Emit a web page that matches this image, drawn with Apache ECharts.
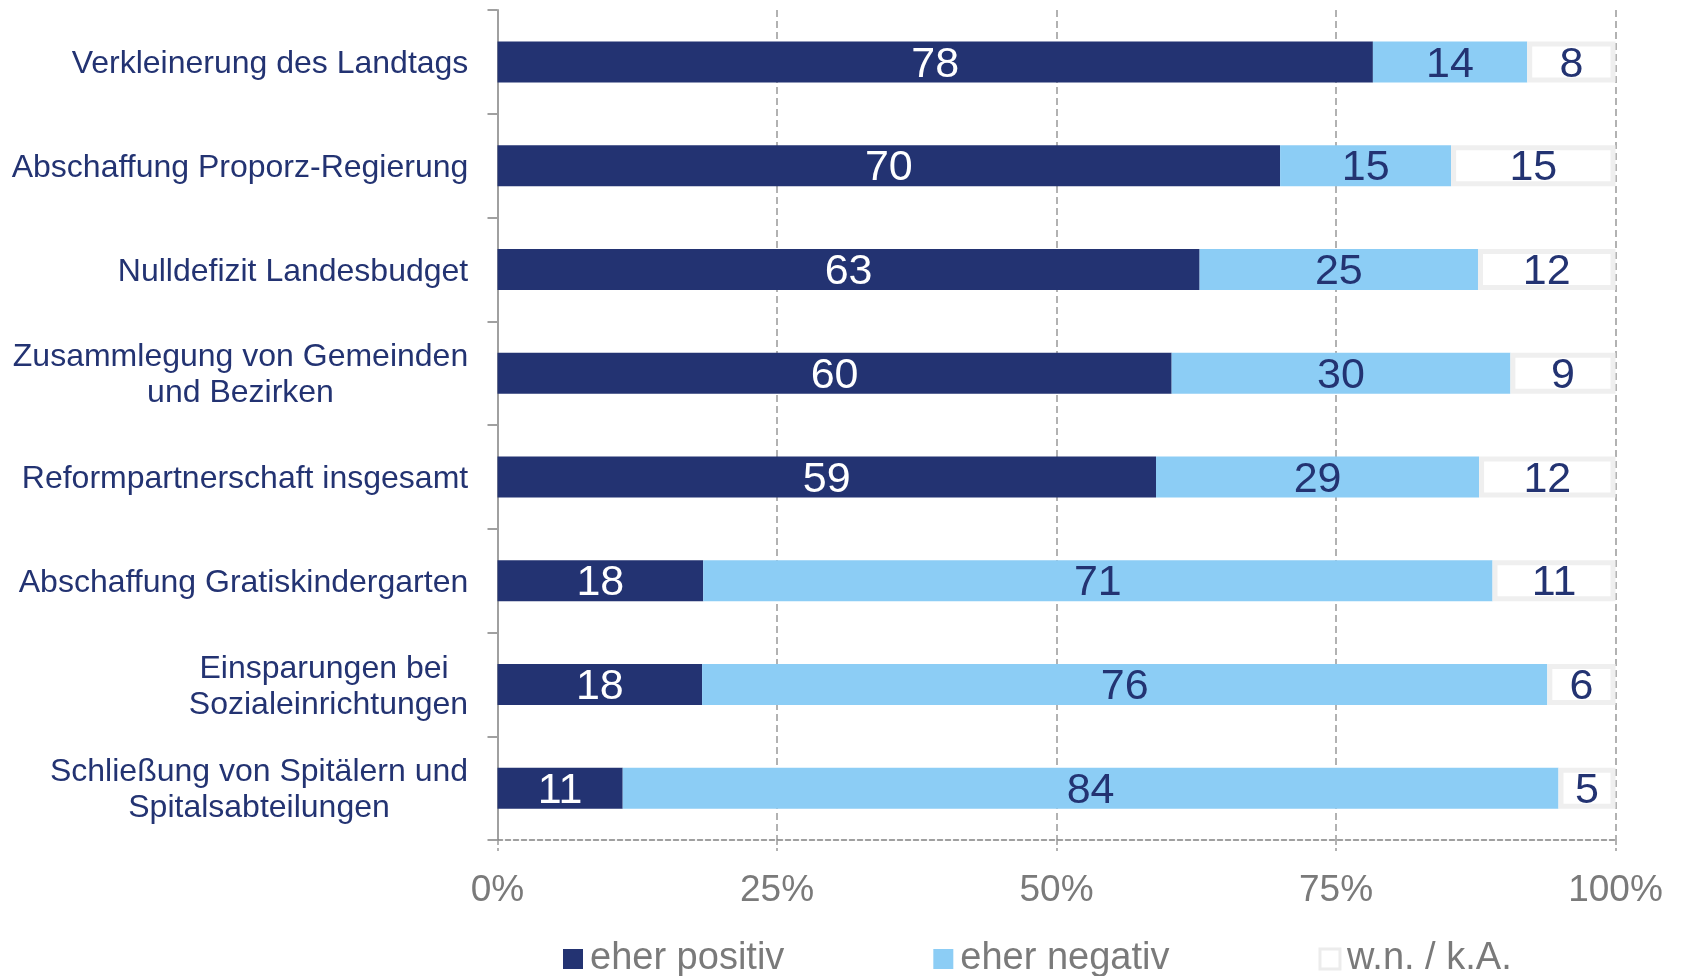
<!DOCTYPE html>
<html>
<head>
<meta charset="utf-8">
<script src="https://cdn.jsdelivr.net/npm/echarts@6/dist/echarts.min.js"></script>
<style>
html,body{margin:0;padding:0;background:#fff;}
#chart{width:1684px;height:976px;}
</style>
</head>
<body>
<div id="chart"></div>
<script>
var categories = [
  'Verkleinerung des Landtags',
  'Abschaffung Proporz-Regierung',
  'Nulldefizit Landesbudget',
  'Zusammlegung von Gemeinden\nund Bezirken',
  'Reformpartnerschaft insgesamt',
  'Abschaffung Gratiskindergarten',
  'Einsparungen bei \nSozialeinrichtungen',
  'Schließung von Spitälern und\nSpitalsabteilungen'
];
var seriesNames = ['eher positiv', 'eher negativ', 'w.n. / k.A.'];
var positiv = [78.3, 70.0, 62.8, 60.3, 58.9, 18.4, 18.3, 11.2];
var negativ = [13.8, 15.3, 24.9, 30.3, 28.9, 70.6, 75.6, 83.7];
var wnka    = [7.9, 14.7, 12.3, 9.4, 12.2, 11.0, 6.1, 5.1];
var xTicks = [0, 25, 50, 75, 100];

var NAVY = '#233372';
var LIGHT = '#8ccdf5';
var GRAY = '#7a7a7a';
var FONT = '"Liberation Sans", Arial, sans-serif';
var CAT_SIZE = 32;

// measure label lines so that multi-line labels can be centred line by line
var ctx = document.createElement('canvas').getContext('2d');
ctx.font = CAT_SIZE + 'px ' + FONT;
var rich = {};
categories.forEach(function (c, i) {
  var w = 0;
  c.split('\n').forEach(function (l) { w = Math.max(w, ctx.measureText(l).width); });
  rich['c' + i] = {width: Math.ceil(w), align: 'center', fontSize: CAT_SIZE, lineHeight: 36, color: NAVY, fontFamily: FONT};
});

var chart = echarts.init(document.getElementById('chart'), null, {renderer: 'canvas'});

function labelCfg(color) {
  return {
    show: true,
    position: 'inside',
    offset: [0, 3],
    color: color,
    fontFamily: FONT,
    fontSize: 43,
    formatter: function (p) { return Math.round(p.value); }
  };
}

var option = {
  animation: false,
  backgroundColor: '#ffffff',
  textStyle: {fontFamily: FONT},
  legend: {
    data: [
      {name: seriesNames[0], itemStyle: {color: NAVY}},
      {name: seriesNames[1], itemStyle: {color: LIGHT}},
      {name: seriesNames[2], itemStyle: {color: '#ffffff', borderColor: '#ececec', borderWidth: 3}}
    ],
    left: 558,
    top: 935,
    icon: 'rect',
    itemWidth: 20,
    itemHeight: 20,
    itemGap: 149,
    textStyle: {color: GRAY, fontSize: 38, fontFamily: FONT, padding: [0, 0, 0, 2]}
  },
  grid: {left: 497.5, right: 68.5, top: 10, height: 830, containLabel: false},
  xAxis: {
    type: 'value',
    min: 0,
    max: 100,
    interval: 25,
    axisLine: {show: true, lineStyle: {color: '#808080', width: 1.5, type: [5, 3]}},
    axisTick: {show: true, length: 11, lineStyle: {color: '#999999', width: 1.5, type: [5, 3]}},
    splitLine: {show: true, lineStyle: {color: '#999999', width: 1.5, type: [7, 4]}},
    axisLabel: {
      color: GRAY, fontSize: 37, fontFamily: FONT, margin: 32,
      formatter: function (v) { return xTicks.indexOf(v) >= 0 ? v + '%' : ''; }
    }
  },
  yAxis: {
    type: 'category',
    inverse: true,
    data: categories,
    axisLine: {show: true, lineStyle: {color: '#a0a0a0', width: 2}},
    axisTick: {show: true, length: 10, lineStyle: {color: '#a0a0a0', width: 2}},
    splitLine: {show: false},
    axisLabel: {
      margin: 29,
      padding: [5, 0, 0, 0],
      fontFamily: FONT,
      fontSize: CAT_SIZE,
      color: NAVY,
      formatter: function (v, i) {
        return v.split('\n').map(function (l) { return '{c' + i + '|' + l + '}'; }).join('\n');
      },
      rich: rich
    }
  },
  series: [
    {
      name: seriesNames[0], type: 'bar', stack: 'total', barWidth: 41,
      data: positiv,
      itemStyle: {color: NAVY},
      label: labelCfg('#ffffff')
    },
    {
      name: seriesNames[1], type: 'bar', stack: 'total', barWidth: 41,
      data: negativ,
      itemStyle: {color: LIGHT},
      label: labelCfg(NAVY)
    },
    {
      name: seriesNames[2], type: 'bar', stack: 'total', barWidth: 41,
      data: wnka,
      itemStyle: {color: '#ffffff', borderColor: '#efefef', borderWidth: 5},
      label: labelCfg(NAVY)
    }
  ]
};
chart.setOption(option);
</script>
</body>
</html>
